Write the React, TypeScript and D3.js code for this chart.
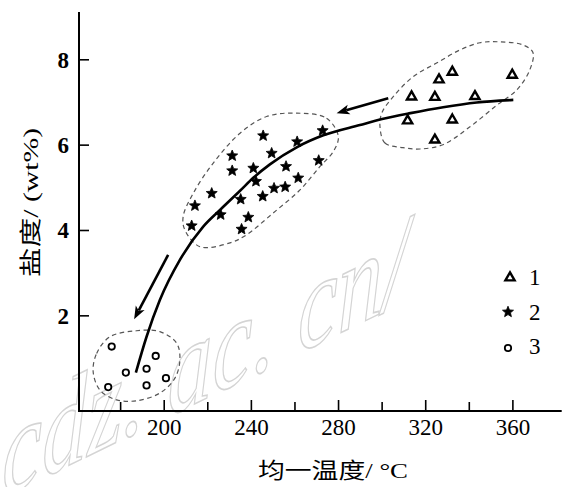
import React from "react";
import * as d3 from "d3";

const W = 568;
const H = 487;

// Group 1 (triangles)
const group1X = [313.5, 324.2, 326.1, 332.2, 342.6, 359.7, 311.7, 332.2, 324.2];
const group1Y = [7.15, 7.14, 7.55, 7.73, 7.16, 7.66, 6.59, 6.61, 6.14];
// Group 2 (stars)
const group2X = [245.4, 272.7, 261.0, 231.2, 249.3, 231.2, 240.9, 255.9, 270.9, 242.1, 261.5, 221.8, 250.4, 255.5, 245.2, 235.1, 214.1, 225.9, 238.6, 212.6, 235.5];
const group2Y = [6.22, 6.34, 6.08, 5.75, 5.81, 5.40, 5.46, 5.50, 5.64, 5.15, 5.23, 4.87, 4.99, 5.02, 4.80, 4.73, 4.58, 4.37, 4.31, 4.11, 4.03];
// Group 3 (circles)
const group3X = [175.9, 196.1, 182.4, 191.9, 200.8, 174.3, 191.9];
const group3Y = [1.28, 1.06, 0.67, 0.76, 0.54, 0.33, 0.37];

// trend curve
const curveX = [187.0, 191.9, 198.0, 207.2, 217.9, 225.6, 234.8, 241.0, 248.5, 260.8, 273.0, 289.8, 300.0, 313.0, 328.0, 343.4, 360.2];
const curveY = [0.67, 1.51, 2.37, 3.31, 4.09, 4.48, 4.93, 5.24, 5.55, 5.95, 6.23, 6.47, 6.61, 6.75, 6.89, 7.00, 7.06];

// arrows [x0,y0,x1,y1] in data units
const arrow1 = [302.8, 7.10, 279.1, 6.75];
const arrow2 = [201.8, 3.43, 186.2, 1.92];

// dashed envelopes
const env1X = [299.0, 301.3, 309.6, 317.4, 327.9, 340.3, 352.7, 361.9, 367.8, 369.2, 364.6, 354.1, 344.9, 335.7, 325.2, 314.1, 305.0, 299.9];
const env1Y = [6.44, 6.05, 5.94, 5.91, 6.01, 6.43, 6.94, 7.30, 7.77, 8.17, 8.35, 8.42, 8.40, 8.23, 7.93, 7.60, 7.13, 6.76];
const env2X = [260.8, 274.5, 279.9, 277.6, 271.5, 262.3, 250.0, 237.8, 230.2, 216.4, 209.5, 208.7, 213.3, 222.5, 234.8, 247.0];
const env2Y = [6.75, 6.63, 6.20, 5.85, 5.50, 4.95, 4.41, 3.90, 3.71, 3.62, 4.01, 4.33, 4.87, 5.58, 6.28, 6.67];
const env3X = [167.4, 169.0, 175.1, 187.3, 198.0, 205.7, 207.2, 204.9, 198.0, 187.3, 178.2, 170.5];
const env3Y = [0.69, 1.12, 1.51, 1.65, 1.63, 1.36, 0.97, 0.54, 0.19, 0.01, 0.03, 0.26];

const xMajorTicks = [200, 240, 280, 320, 360];
const xMinorTicks = [180, 220, 260, 300, 340];
const yTicks = [2, 4, 6, 8];
const legendLabels = ["1", "2", "3"];

const xLabel = "均一温度/ °C";
const yLabel = "盐度/ (wt%)";
const watermark = "cdz. ac. cn/";

const x = d3.scaleLinear().domain([160.9, 382.4]).range([79, 561.7]);
const y = d3.scaleLinear().domain([-0.23, 9.12]).range([411, 12]);

const serif = "'Liberation Serif', 'DejaVu Serif', serif";
const cjk = "'Liberation Serif', 'Noto Sans CJK SC', serif";

function starPath(ro: number, ri: number) {
  const pts: [number, number][] = [];
  for (let i = 0; i < 10; i++) {
    const r = i % 2 === 0 ? ro : ri;
    const a = -Math.PI / 2 + (i * Math.PI) / 5;
    pts.push([r * Math.cos(a), r * Math.sin(a)]);
  }
  return "M" + pts.map((p) => p[0].toFixed(2) + "," + p[1].toFixed(2)).join("L") + "Z";
}
const STAR = starPath(5.8, 2.6);
const TRI = "M0,-4.6L4.6,3.4L-4.6,3.4Z";

function Tri({ cx, cy }: { cx: number; cy: number }) {
  return <path d={TRI} transform={`translate(${cx},${cy})`} fill="#fff" stroke="#000" strokeWidth={2.4} strokeLinejoin="miter" />;
}
function Star({ cx, cy }: { cx: number; cy: number }) {
  return <path d={STAR} transform={`translate(${cx},${cy})`} fill="#000" stroke="#000" strokeWidth={0.8} strokeLinejoin="round" />;
}
function Circ({ cx, cy }: { cx: number; cy: number }) {
  return <circle cx={cx} cy={cy} r={3.2} fill="#fff" stroke="#000" strokeWidth={1.8} />;
}

function envPath(xs: number[], ys: number[]) {
  const pts = xs.map((v, i) => [x(v), y(ys[i])] as [number, number]);
  return d3.line().curve(d3.curveCatmullRomClosed.alpha(0.5))(pts) || "";
}

export default function App() {
  const curvePts = curveX.map((v, i) => [x(v), y(curveY[i])] as [number, number]);
  const curveD = d3.line().curve(d3.curveMonotoneX)(curvePts) || "";

  const arrowLine = (a: number[]) => {
    const x0 = x(a[0]), y0 = y(a[1]), x1 = x(a[2]), y1 = y(a[3]);
    const ang = Math.atan2(y1 - y0, x1 - x0);
    const len = 13, half = 5;
    const bx = x1 - len * Math.cos(ang), by = y1 - len * Math.sin(ang);
    const px = -Math.sin(ang) * half, py = Math.cos(ang) * half;
    const head = `M${x1},${y1}L${bx + px},${by + py}L${bx + len * 0.25 * Math.cos(ang)},${by + len * 0.25 * Math.sin(ang)}L${bx - px},${by - py}Z`;
    return (
      <g>
        <line x1={x0} y1={y0} x2={bx + 3 * Math.cos(ang)} y2={by + 3 * Math.sin(ang)} stroke="#000" strokeWidth={2.6} />
        <path d={head} fill="#000" />
      </g>
    );
  };

  const x0 = x.range()[0];
  const yBase = y.range()[0];

  return (
    <svg width={W} height={H} style={{ position: "absolute", left: 0, top: 0, background: "#fff" }}>
      <rect width={W} height={H} fill="#fff" />
      {/* watermark */}
      <text
        transform="translate(2,498) skewY(-26) scale(1,1.25)"
        fontFamily={serif}
        fontStyle="italic"
        fontSize={100}
        textLength={406}
        lengthAdjust="spacingAndGlyphs"
        fill="none"
        stroke="#d4d4d4"
        strokeWidth={1.3}
      >
        {watermark}
      </text>

      {/* envelopes */}
      {[envPath(env1X, env1Y), envPath(env2X, env2Y), envPath(env3X, env3Y)].map((d, i) => (
        <path key={i} d={d} fill="none" stroke="#555" strokeWidth={1.2} strokeDasharray="4.5 3.5" />
      ))}

      {/* axes */}
      <line x1={x0} y1={y.range()[1]} x2={x0} y2={yBase + 1} stroke="#000" strokeWidth={2} />
      <line x1={x0 - 1} y1={yBase} x2={x.range()[1]} y2={yBase} stroke="#000" strokeWidth={2} />
      {xMajorTicks.map((t) => (
        <g key={"xm" + t}>
          <line x1={x(t)} x2={x(t)} y1={yBase} y2={yBase - 11} stroke="#000" strokeWidth={1.6} />
          <text x={x(t)} y={435} textAnchor="middle" fontFamily={serif} fontSize={23} fill="#000">
            {t}
          </text>
        </g>
      ))}
      {xMinorTicks.map((t) => (
        <line key={"xn" + t} x1={x(t)} x2={x(t)} y1={yBase} y2={yBase - 9} stroke="#000" strokeWidth={1.6} />
      ))}
      {yTicks.map((t) => (
        <g key={"y" + t}>
          <line x1={x0} x2={x0 + 10} y1={y(t)} y2={y(t)} stroke="#000" strokeWidth={1.6} />
          <text x={69} y={y(t) + 8} textAnchor="end" fontFamily={serif} fontSize={23} fontWeight="bold" fill="#000">
            {t}
          </text>
        </g>
      ))}

      {/* axis labels */}
      <text x={258} y={478} fontFamily={cjk} fontSize={22} textLength={150} lengthAdjust="spacingAndGlyphs" fill="#000">
        {xLabel}
      </text>
      <text
        transform="translate(38,277) rotate(-90)"
        fontFamily={cjk}
        fontSize={22}
        textLength={149}
        lengthAdjust="spacingAndGlyphs"
        fill="#000"
      >
        {yLabel}
      </text>

      {/* curve and arrows */}
      <path d={curveD} fill="none" stroke="#000" strokeWidth={2.6} />
      {arrowLine(arrow1)}
      {arrowLine(arrow2)}

      {/* points */}
      {group1X.map((v, i) => (
        <Tri key={"t" + i} cx={x(v)} cy={y(group1Y[i])} />
      ))}
      {group2X.map((v, i) => (
        <Star key={"s" + i} cx={x(v)} cy={y(group2Y[i])} />
      ))}
      {group3X.map((v, i) => (
        <Circ key={"c" + i} cx={x(v)} cy={y(group3Y[i])} />
      ))}

      {/* legend */}
      <Tri cx={510} cy={277} />
      <Star cx={508} cy={312} />
      <Circ cx={508} cy={348} />
      {legendLabels.map((l, i) => (
        <text key={l} x={529} y={285 + i * 34.5} fontFamily={serif} fontSize={23} fill="#000">
          {l}
        </text>
      ))}
    </svg>
  );
}
